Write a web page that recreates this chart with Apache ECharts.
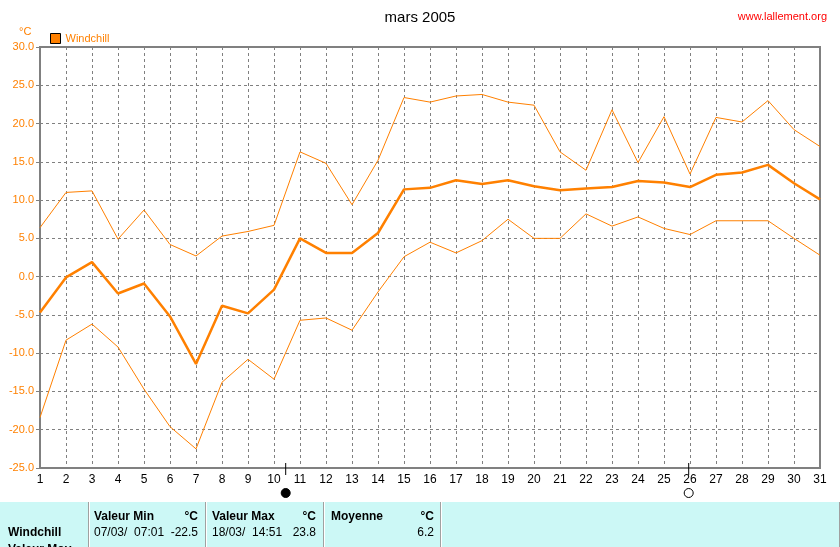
<!DOCTYPE html>
<html>
<head>
<meta charset="utf-8">
<script src="https://cdn.jsdelivr.net/npm/echarts@6/dist/echarts.min.js"></script>
<style>html,body{margin:0;padding:0;background:#fff}#c{width:840px;height:547px}</style>
</head>
<body>
<div id="c"></div>
<script>
// ---- data ----
const days = [1,2,3,4,5,6,7,8,9,10,11,12,13,14,15,16,17,18,19,20,21,22,23,24,25,26,27,28,29,30,31];
const maxVals = [6.4,11.0,11.2,4.9,8.7,4.2,2.7,5.3,5.9,6.7,16.3,14.8,9.4,15.2,23.4,22.8,23.6,23.8,22.8,22.4,16.3,13.9,21.8,14.9,20.9,13.4,20.8,20.2,23.0,19.2,17.0];
const avgVals = [-4.7,-0.1,1.9,-2.2,-0.9,-5.2,-11.4,-3.8,-4.8,-1.7,5.0,3.1,3.1,5.7,11.4,11.6,12.6,12.1,12.6,11.8,11.3,11.5,11.7,12.5,12.3,11.7,13.3,13.6,14.6,12.2,10.1];
const minVals = [-18.4,-8.3,-6.2,-9.2,-14.7,-19.6,-22.5,-13.8,-10.8,-13.4,-5.7,-5.4,-7.0,-2.0,2.6,4.5,3.1,4.7,7.5,5.0,5.0,8.2,6.6,7.8,6.3,5.5,7.3,7.3,7.3,5.0,2.8];
const yTicks = [-25,-20,-15,-10,-5,0,5,10,15,20,25,30];
const moonDays = [10.45, 25.95];      // full moon, new moon
const moonFilled = [true, false];
const tableHeaders = ['Valeur Min', 'Valeur Max', 'Moyenne'];
const tableUnits = ['°C', '°C', '°C'];
const tableWhen = ['07/03/  07:01', '18/03/  14:51', ''];
const tableValues = ['-22.5', '23.8', '6.2'];
const seriesName = 'Windchill';

const ORANGE = '#ff8000';
const GRAY = '#808080';
const toPoints = arr => days.map((d, i) => [d, arr[i]]);

const chart = echarts.init(document.getElementById('c'), null, {renderer: 'canvas'});
const FONT = 'Liberation Sans';

chart.setOption({
  animation: false,
  backgroundColor: '#ffffff',
  textStyle: {fontFamily: FONT},
  title: [
    {text: 'mars 2005', left: 'center', top: 5, textStyle: {fontSize: 15, fontWeight: 'normal', color: '#000', fontFamily: FONT}},
    {text: 'www.lallement.org', right: 8, top: 6, textStyle: {fontSize: 11, fontWeight: 'normal', color: '#ff0000', fontFamily: FONT}}
  ],
  legend: {
    data: [seriesName], left: 45, top: 28, itemWidth: 10, itemHeight: 10, itemGap: 4,
    icon: 'rect',
    itemStyle: {color: ORANGE, borderColor: '#000', borderWidth: 1},
    textStyle: {color: ORANGE, fontSize: 11, fontFamily: FONT}
  },
  grid: {left: 40, right: 20, top: 47, bottom: 79, show: true, borderColor: GRAY, borderWidth: 2, containLabel: false},
  xAxis: {
    type: 'value', min: 1, max: 31, interval: 1,
    axisLine: {show: false},
    axisTick: {show: true, length: 3, lineStyle: {color: GRAY}},
    axisLabel: {color: '#000', fontSize: 12, margin: 6, fontFamily: FONT},
    splitLine: {show: true, lineStyle: {color: GRAY, type: [3, 3], width: 1}}
  },
  yAxis: {
    type: 'value', min: yTicks[0], max: yTicks[yTicks.length-1], interval: 5,
    axisLine: {show: false},
    axisTick: {show: true, length: 4, lineStyle: {color: GRAY}},
    axisLabel: {color: ORANGE, fontSize: 11, margin: 6, fontFamily: FONT, formatter: v => v.toFixed(1)},
    splitLine: {show: true, lineStyle: {color: GRAY, type: [3, 3], width: 1}}
  },
  series: [
    {name: 'max', type: 'line', data: toPoints(maxVals), symbol: 'none', lineStyle: {color: ORANGE, width: 1}, itemStyle: {color: ORANGE}, z: 3},
    {name: seriesName, type: 'line', data: toPoints(avgVals), symbol: 'none', lineStyle: {color: ORANGE, width: 2.5}, itemStyle: {color: ORANGE}, z: 4},
    {name: 'min', type: 'line', data: toPoints(minVals), symbol: 'none', lineStyle: {color: ORANGE, width: 1}, itemStyle: {color: ORANGE}, z: 3}
  ]
});

// ---- graphics: unit label, moon markers, summary table ----
const g = [];
g.push({type: 'text', left: 19, top: 26, style: {text: '°C', fill: ORANGE, font: '11px ' + FONT}});

moonDays.forEach((d, i) => {
  const p = chart.convertToPixel({gridIndex: 0}, [d, yTicks[0]]);
  g.push({type: 'line', shape: {x1: p[0], y1: p[1] - 5, x2: p[0], y2: p[1] + 7}, style: {stroke: '#000', lineWidth: 1}, z: 10});
  g.push({type: 'circle', shape: {cx: p[0], cy: p[1] + 25, r: 4.5},
    style: {fill: moonFilled[i] ? '#000' : '#fff', stroke: '#000', lineWidth: 1}, z: 10});
});

// table background
g.push({type: 'rect', shape: {x: 0, y: 502, width: 840, height: 45}, style: {fill: '#ccf8f6'}, z: 1});
const seps = [88, 205, 323, 440, 839];
seps.forEach(x => {
  g.push({type: 'rect', shape: {x: x, y: 502, width: 1, height: 45}, style: {fill: '#a0a0a0'}, z: 2});
  g.push({type: 'rect', shape: {x: x + 1, y: 502, width: 1, height: 45}, style: {fill: '#ffffff'}, z: 2});
});
const colLeft = [94, 212, 331];
const colRight = [198, 316, 434];
tableHeaders.forEach((h, i) => {
  g.push({type: 'text', x: colLeft[i], y: 517, style: {text: h, fill: '#000', font: 'bold 12px ' + FONT, textVerticalAlign: 'middle'}, z: 5});
  g.push({type: 'text', x: colRight[i], y: 517, style: {text: tableUnits[i], fill: '#000', font: 'bold 12px ' + FONT, textAlign: 'right', textVerticalAlign: 'middle'}, z: 5});
  if (tableWhen[i]) g.push({type: 'text', x: colLeft[i], y: 533, style: {text: tableWhen[i], fill: '#000', font: '12px ' + FONT, textVerticalAlign: 'middle'}, z: 5});
  g.push({type: 'text', x: colRight[i], y: 533, style: {text: tableValues[i], fill: '#000', font: '12px ' + FONT, textAlign: 'right', textVerticalAlign: 'middle'}, z: 5});
});
g.push({type: 'text', x: 8, y: 533, style: {text: seriesName, fill: '#000', font: 'bold 12px ' + FONT, textVerticalAlign: 'middle'}, z: 5});
g.push({type: 'text', x: 8, y: 550, style: {text: 'Valeur Moy', fill: '#000', font: 'bold 12px ' + FONT, textVerticalAlign: 'middle'}, z: 5});

chart.setOption({graphic: g});
</script>
</body>
</html>
